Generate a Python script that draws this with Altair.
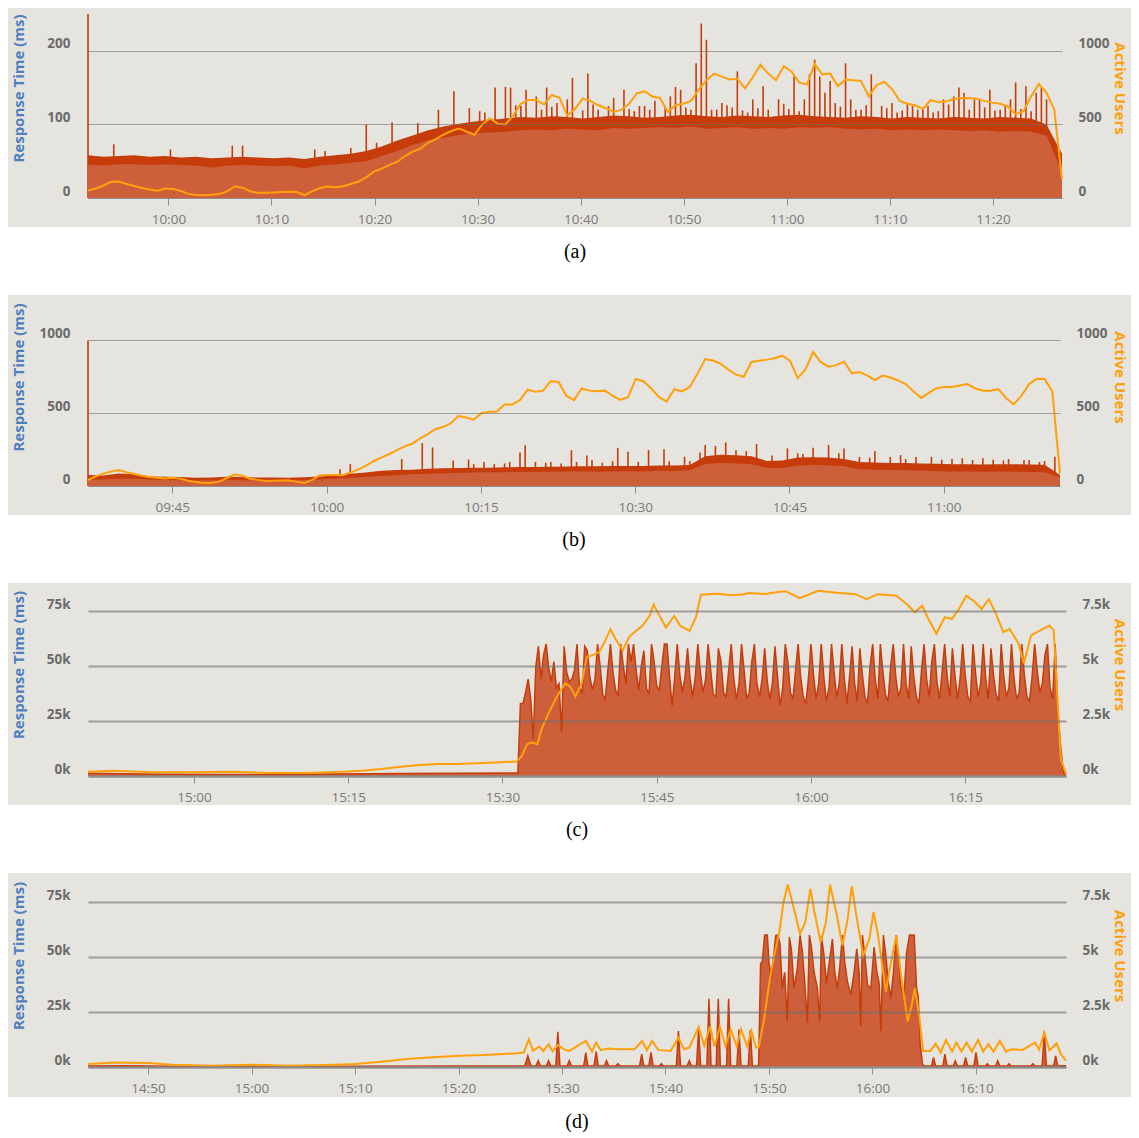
import altair as alt
import pandas as pd

BG = "#e5e4df"
FILL = "#cd603a"
DARK = "#c63c0a"
ORANGE = "#ffa00a"
GRID = "#8f8f8f"
BLUE = "#4f7fbf"
FONT = "Open Sans"

TIME_EXPR = ("(floor(datum.value/60) < 10 ? '0' : '') + floor(datum.value/60) + ':' + "
             "(datum.value % 60 < 10 ? '0' : '') + (datum.value % 60)")

# ---------------- Panel (a) ----------------  (time in minutes of day)
A_DOMAIN = [592.2, 686.7]
A_TICKS = [600, 610, 620, 630, 640, 650, 660, 670, 680]
A_BAND_START, A_BAND_STEP = 592.2, 1.5
a_band_top = [
    58, 56, 57, 58, 56, 57, 55, 56, 54, 55, 56, 55, 54, 55, 53, 56, 58,
    60, 64, 70, 78, 85, 92, 97, 101, 104, 106,
    108, 110, 109, 111, 110, 108, 110, 112, 111, 109, 110, 112, 113, 111, 110, 112, 111,
    110, 112, 113, 111, 110, 109, 111, 110, 108, 110, 109, 108, 110, 109, 108, 110, 109, 108,
    100, 60,
]
a_band_low = [
    45, 44, 46, 46, 45, 46, 45, 44, 41, 44,
    45, 44, 43, 44, 40, 44, 46, 48, 50, 57,
    64, 72, 78, 82, 86, 88, 89, 90, 92, 93,
    92, 94, 93, 92, 95, 94, 95, 96, 95, 97,
    94, 95, 96, 94, 95, 94, 96, 95, 96, 94,
    93, 94, 92, 93, 92, 93, 92, 91, 92, 90,
    91, 90, 85, 35,
]
a_spikes = [
    (592.2, 250), (594.7, 73), (600.2, 66), (606.2, 71), (607.2, 71), (614.2, 66), (615.2, 64),
    (617.7, 68), (619.2, 100), (620.2, 75), (621.7, 103), (624.2, 102), (626.2, 120),
    (627.7, 145), (629.2, 122), (630.2, 118), (630.7, 116), (631.7, 150), (632.7, 151),
    (633.2, 150), (633.7, 126), (634.2, 125), (634.7, 147), (635.7, 138), (636.2, 120),
    (636.7, 150), (637.2, 124), (637.7, 129), (638.7, 134), (639.2, 163), (640.2, 119),
    (640.7, 169), (641.2, 127), (641.7, 120), (642.7, 125), (643.2, 136), (644.2, 147),
    (644.7, 121), (645.2, 118), (645.7, 125), (646.2, 125), (646.7, 120), (647.2, 132),
    (648.2, 125), (648.7, 138), (649.2, 151), (649.7, 147), (650.2, 123), (650.7, 120),
    (651.2, 183), (651.7, 237), (652.2, 215), (652.7, 120), (653.2, 120), (653.7, 129),
    (654.2, 126), (654.7, 123), (655.2, 172), (655.7, 119), (656.2, 116), (656.7, 134),
    (657.2, 122), (657.7, 152), (658.2, 120), (659.2, 134), (659.7, 128), (660.2, 121),
    (660.7, 165), (661.2, 118), (661.7, 134), (662.2, 168), (662.7, 188), (663.2, 165),
    (663.7, 143), (664.2, 159), (664.7, 129), (665.2, 124), (665.7, 183), (666.2, 134),
    (666.7, 120), (667.2, 120), (667.7, 126), (668.2, 168), (669.2, 125), (669.7, 122),
    (670.2, 129), (670.7, 116), (671.2, 119), (671.7, 129), (672.2, 125), (672.7, 120),
    (673.2, 121), (673.7, 125), (674.2, 116), (674.7, 118), (675.2, 134), (675.7, 127),
    (676.2, 138), (676.7, 150), (677.2, 143), (677.7, 120), (678.2, 134), (678.7, 134),
    (679.2, 123), (679.7, 147), (680.2, 119), (680.7, 120), (681.2, 126), (681.7, 134),
    (682.2, 157), (682.7, 121), (683.2, 152), (683.7, 118), (684.2, 143), (684.7, 150),
    (685.2, 134),
]
A_USERS_START, A_USERS_STEP = 592.2, 0.75
a_users = [
    50, 65, 85, 110, 112, 95, 82, 68, 58, 50,
    64, 61, 48, 28, 20, 18, 22, 27, 45, 80,
    70, 45, 34, 36, 38, 40, 43, 40, 20, 45,
    68, 78, 73, 80, 95, 112, 140, 180, 200, 225,
    245, 285, 315, 335, 376, 400, 430, 455, 472, 450,
    430, 500, 540, 505, 500, 560, 640, 665, 665, 635,
    700, 680, 560, 605, 675, 660, 630, 610, 585, 600,
    640, 710, 725, 690, 680, 585, 630, 640, 660, 735,
    800, 845, 825, 805, 810, 745, 820, 905, 845, 800,
    895, 860, 785, 770, 910, 840, 845, 760, 805, 800,
    795, 690, 765, 790, 740, 660, 640, 630, 605, 665,
    650, 655, 672, 680, 678, 675, 658, 648, 640, 622,
    570, 590, 690, 775, 715, 600, 128,
]

# ---------------- Panel (b) ----------------
B_DOMAIN = [576.8, 671.3]
B_TICKS = [585, 600, 615, 630, 645, 660]
B_BAND_START, B_BAND_STEP = 576.8, 1.5
b_band_top = [
    75, 72, 85, 80, 66, 64, 62, 57, 58, 63, 62, 58, 58, 57, 60, 66,
    74, 84, 92, 105, 110, 112, 118, 122, 124, 126, 126, 128, 130, 130,
    132, 134, 136, 135, 137, 138, 138, 140, 141, 145,
    205, 215, 212, 205, 172, 175, 195, 198, 195, 185,
    165, 162, 158, 158, 155, 152, 150, 150, 148, 150, 150, 148, 146, 75,
]
b_band_low = [
    45, 45, 50, 50, 45, 42, 40, 38, 40, 42,
    40, 38, 38, 40, 42, 45, 50, 55, 62, 68,
    74, 80, 84, 88, 90, 92, 94, 95, 96, 98,
    98, 100, 100, 98, 100, 102, 100, 104, 102, 110,
    150, 160, 155, 150, 125, 122, 140, 145, 142, 135,
    115, 112, 110, 108, 106, 102, 100, 100, 98, 100,
    98, 97, 95, 60,
]
b_spikes = [
    (576.8, 1000), (601.3, 115), (602.3, 150), (607.3, 186), (609.3, 295), (610.3, 265),
    (612.3, 175), (613.8, 182), (614.3, 150), (615.3, 165), (616.3, 150), (617.3, 155),
    (617.8, 165), (618.8, 230), (619.3, 280), (620.3, 165), (621.3, 160), (621.8, 165),
    (622.8, 155), (623.8, 245), (624.3, 165), (625.3, 210), (625.8, 178), (626.8, 160),
    (627.8, 170), (628.3, 262), (629.3, 235), (630.3, 165), (631.3, 247), (632.8, 253),
    (633.3, 170), (634.8, 201), (635.3, 172), (636.3, 230), (636.8, 281), (637.8, 275),
    (638.8, 299), (639.8, 245), (640.8, 240), (641.8, 288), (643.3, 210), (644.8, 258),
    (645.8, 225), (646.3, 220), (647.3, 262), (648.8, 281), (649.8, 225), (650.3, 258),
    (651.8, 200), (652.8, 195), (653.3, 240), (654.8, 200), (655.8, 212), (656.3, 185),
    (657.3, 200), (658.8, 200), (659.8, 180), (660.8, 185), (661.8, 190), (662.8, 178),
    (663.8, 190), (664.8, 180), (665.8, 175), (666.3, 185), (667.8, 178), (668.3, 178),
    (669.3, 165), (669.8, 172), (670.8, 201),
]
B_USERS_START, B_USERS_STEP = 576.8, 0.75
b_users = [
    41, 65, 85, 100, 110, 95, 82, 70, 62, 57,
    52, 57, 50, 36, 28, 20, 22, 30, 55, 80,
    70, 50, 42, 35, 36, 38, 39, 30, 20, 40,
    72, 75, 75, 74, 92, 112, 138, 170, 195, 218,
    245, 270, 290, 325, 355, 390, 405, 430, 480, 470,
    455, 500, 510, 512, 560, 560, 590, 662, 648, 655,
    720, 715, 620, 590, 670, 655, 650, 655, 620, 592,
    610, 735, 720, 670, 612, 580, 665, 650, 680, 770,
    872, 862, 840, 800, 765, 750, 852, 860, 868, 878,
    895, 860, 740, 800, 920, 850, 820, 830, 855, 775,
    782, 760, 728, 758, 745, 725, 700, 650, 605, 640,
    672, 680, 680, 690, 700, 670, 655, 655, 665, 605,
    560, 620, 700, 737, 735, 650, 87,
]

# ---------------- Panel (c) ----------------
C_DOMAIN = [889.7, 984.8]
C_TICKS = [900, 915, 930, 945, 960, 975]
c_rt_pre = [(889.7, 1200), (893.0, 1000), (897.0, 800), (902.0, 700), (908.0, 700),
            (914.0, 900), (920.0, 1100), (926.0, 1300), (931.25, 1400)]
C_ACTIVE_START, C_ACTIVE_STEP = 931.5, 0.25
c_rt_active = [
    1500, 33000, 33000, 38000, 44000, 35000, 17000, 50000, 59000, 44000,
    55000, 60000, 49000, 43000, 52000, 40000, 42000, 20000, 59000, 47000,
    43000, 44000, 48000, 60000, 40000, 38000, 59000, 57000, 45000, 39000,
    44000, 60000, 50000, 37000, 35000, 48000, 60000, 47000, 39000, 37000,
    60000, 50000, 42000, 60000, 52000, 60000, 48000, 39000, 50000, 57000,
    40000, 37000, 60000, 52000, 41000, 39000, 50000, 60000, 60000, 45000,
    32000, 45000, 60000, 46000, 38000, 45000, 58000, 44000, 36000, 45000,
    60000, 47000, 38000, 44000, 60000, 48000, 37000, 36000, 58000, 52000,
    38000, 36000, 48000, 60000, 44000, 35000, 42000, 60000, 48000, 35000,
    38000, 52000, 60000, 42000, 36000, 44000, 58000, 43000, 35000, 42000,
    59000, 45000, 32000, 40000, 60000, 52000, 38000, 35000, 48000, 60000,
    45000, 36000, 33000, 44000, 60000, 46000, 35000, 42000, 60000, 45000,
    34000, 40000, 60000, 47000, 36000, 42000, 60000, 44000, 33000, 45000,
    59000, 42000, 34000, 58000, 46000, 36000, 33000, 50000, 60000, 44000,
    35000, 60000, 47000, 37000, 34000, 50000, 60000, 45000, 36000, 40000,
    60000, 42000, 35000, 59000, 45000, 36000, 33000, 48000, 60000, 44000,
    36000, 52000, 60000, 43000, 35000, 47000, 60000, 45000, 36000, 58000,
    46000, 35000, 44000, 60000, 46000, 36000, 34000, 60000, 47000, 36000,
    42000, 60000, 44000, 35000, 58000, 46000, 37000, 34000, 60000, 45000,
    36000, 40000, 60000, 44000, 35000, 38000, 60000, 46000, 36000, 34000,
    45000, 60000, 48000, 38000, 42000, 55000, 60000, 40000, 35000, 60000,
    30000, 15000, 3000, 0,
]
c_users = [
    (889.7, 195), (892.2, 240), (895.9, 165), (899.6, 165), (904.1, 195), (907.1, 135),
    (910.8, 135), (914.5, 195), (916.3, 240), (918.2, 315), (920.1, 420), (921.9, 495),
    (923.8, 540), (925.6, 540), (927.5, 585), (929.3, 615), (931.4, 660), (931.9, 926),
    (932.4, 1448), (932.9, 1523), (933.4, 1448), (933.8, 2120), (934.5, 2867), (935.3, 3613),
    (936.1, 4210), (936.6, 4061), (937.1, 3613), (937.7, 4210), (938.2, 5405), (938.7, 5480),
    (939.4, 5629), (940.0, 6151), (940.5, 6674), (941.0, 6226), (941.7, 5703), (942.3, 6301),
    (942.8, 6525), (943.6, 6823), (944.3, 7271), (944.7, 7794), (945.2, 7346), (945.9, 6748),
    (946.7, 7271), (947.3, 6823), (948.2, 6599), (948.8, 7196), (949.3, 8241), (950.8, 8286),
    (952.4, 8212), (953.5, 8265), (954.0, 8316), (955.6, 8271), (957.1, 8385), (957.6, 8390),
    (958.9, 8085), (960.7, 8415), (962.5, 8330), (964.3, 8265), (965.4, 8040), (966.5, 8265),
    (968.3, 8190), (969.3, 7815), (970.1, 7440), (970.8, 7740), (971.5, 7065), (972.2, 6465),
    (973.0, 7215), (973.7, 7140), (974.4, 7590), (975.1, 8190), (975.8, 7965), (976.6, 7590),
    (977.3, 8040), (978.0, 7365), (978.7, 6540), (979.3, 6690), (980.2, 6015), (980.7, 5115),
    (981.4, 6390), (982.3, 6615), (983.2, 6840), (983.6, 6615), (984.3, 765), (984.8, 90),
]

# ---------------- Panel (d) ----------------
D_DOMAIN = [884.2, 978.7]
D_TICKS = [890, 900, 910, 920, 930, 940, 950, 960, 970]
d_rt = [
    (884.2, 500), (888.0, 600), (892.0, 300), (900.0, 300), (910.0, 300), (920.0, 400), (926.4, 400),
    (926.7, 5100), (927.0, 500), (927.5, 500), (927.7, 2800), (927.9, 500), (928.5, 500),
    (928.7, 2800), (928.9, 500), (929.4, 500), (929.6, 16000), (929.8, 600), (930.5, 500),
    (930.7, 2800), (930.9, 500), (932.1, 500), (932.3, 6500), (932.5, 500), (933.1, 500),
    (933.3, 7000), (933.5, 500), (934.1, 500), (934.3, 2800), (934.5, 500), (935.2, 500),
    (935.4, 1500), (935.6, 500), (937.5, 500), (937.7, 5800), (937.9, 500), (938.4, 500),
    (938.6, 6600), (938.8, 500), (939.4, 500), (939.6, 1500), (939.8, 500), (941.05, 500),
    (941.25, 16300), (941.45, 500), (942.1, 500), (942.3, 2800), (942.5, 500), (943.0, 500),
    (943.2, 17000), (943.4, 500), (944.0, 500), (944.2, 31000), (944.4, 500), (944.9, 500),
    (945.1, 31000), (945.3, 500), (945.9, 500), (946.1, 31000), (946.3, 500), (946.9, 500),
    (947.1, 17000), (947.3, 500), (948.0, 500), (948.2, 16800), (948.4, 500), (949.0, 500),
    (949.19, 47000), (949.35, 47700), (949.58, 60000), (949.84, 60000), (950.0, 47700),
    (950.23, 40000), (950.42, 49000), (950.65, 59700), (950.87, 60000), (951.06, 56000),
    (951.29, 35800), (951.52, 43000), (951.77, 20800), (951.97, 59000), (952.16, 53700),
    (952.42, 35800), (952.74, 44800), (953.0, 60000), (953.23, 52200), (953.45, 38800),
    (953.71, 20000), (953.9, 60000), (954.1, 54500), (954.35, 43300), (954.68, 35800),
    (954.9, 20800), (955.06, 59700), (955.32, 50700), (955.55, 38000), (955.87, 49200),
    (956.13, 58200), (956.35, 43300), (956.61, 35800), (956.84, 45500), (957.1, 60000),
    (957.32, 47700), (957.58, 38800), (957.9, 32800), (958.23, 43300), (958.48, 53700),
    (958.71, 43300), (958.87, 18600), (959.03, 60000), (959.26, 50700), (959.52, 37300),
    (959.84, 35800), (960.16, 54500), (960.42, 43300), (960.65, 38000), (960.81, 16300),
    (961.06, 60000), (961.29, 50700), (961.52, 38800), (961.77, 31300), (962.03, 43300),
    (962.29, 60000), (962.48, 50700), (962.74, 36500), (963.06, 32800), (963.29, 51500),
    (963.58, 60000), (964.03, 60000), (964.26, 35800), (964.42, 32000), (964.61, 10300),
    (964.84, 1300), (965.0, 400),
    (965.7, 400), (965.9, 4300), (966.1, 400), (966.8, 400), (967.0, 5800), (967.2, 400),
    (967.8, 400), (968.0, 2800), (968.2, 400), (968.8, 400), (969.0, 4300), (969.2, 400),
    (969.8, 400), (970.0, 6600), (970.2, 400), (970.9, 400), (971.1, 1500), (971.3, 400),
    (971.9, 400), (972.1, 2800), (972.3, 400), (973.0, 400), (973.2, 1500), (973.4, 400),
    (975.3, 400), (975.5, 1500), (975.7, 400), (976.4, 400), (976.6, 16300), (976.8, 400),
    (977.5, 400), (977.7, 5100), (977.9, 400), (978.7, 600),
]
d_users = [
    (884.2, 135), (886.8, 210), (890.0, 180), (892.4, 105), (896.1, 60), (900.0, 105),
    (903.5, 60), (907.2, 90), (910.0, 135), (912.8, 255), (915.0, 360), (917.2, 435),
    (920.1, 510), (922.4, 540), (923.9, 585), (925.7, 630), (926.3, 660), (926.8, 1260),
    (927.2, 735), (927.8, 930), (928.2, 720), (928.7, 1035), (929.1, 720), (929.6, 1000),
    (930.2, 800), (930.7, 733), (932.3, 1183), (932.9, 700), (933.3, 1108), (933.75, 763),
    (934.5, 838), (935.4, 808), (937.0, 808), (937.75, 1183), (938.2, 760), (938.7, 1183),
    (939.3, 778), (940.5, 733), (941.25, 1332), (941.8, 808), (942.3, 883), (943.2, 1826),
    (943.75, 958), (944.3, 1856), (944.75, 930), (945.25, 1826), (945.8, 930), (946.3, 1706),
    (946.9, 930), (947.3, 1706), (947.9, 930), (948.3, 1632), (948.75, 883), (949.0, 883),
    (949.5, 2080), (950.0, 3730), (950.5, 5075), (951.0, 6120), (951.4, 7470), (951.8, 8290),
    (952.1, 7770), (952.5, 7020), (953.0, 6050), (953.5, 6570), (954.0, 8100), (954.4, 7020),
    (955.0, 5670), (955.5, 6570), (955.9, 8290), (956.5, 7020), (957.1, 5520), (957.6, 6720),
    (958.0, 8220), (958.5, 6720), (959.1, 5075), (959.7, 5820), (960.1, 7050), (960.5, 6120),
    (961.3, 3430), (961.8, 4775), (962.3, 5970), (962.8, 4030), (963.4, 2080), (963.8, 2830),
    (964.1, 3580), (964.5, 2380), (964.9, 730), (965.6, 730), (966.1, 1060), (966.6, 659),
    (967.1, 1228), (967.7, 700), (968.1, 1108), (968.6, 700), (969.1, 1108), (969.6, 700),
    (970.2, 1228), (970.7, 700), (971.2, 1033), (971.7, 700), (972.3, 1183), (972.9, 700),
    (973.4, 808), (974.5, 778), (975.7, 1108), (976.1, 780), (976.6, 1557), (977.1, 760),
    (977.8, 1078), (978.2, 584), (978.7, 284),
]


def grid_df(start, step, values):
    return pd.DataFrame({"t": [round(start + step * i, 4) for i in range(len(values))], "v": values})


def pairs_df(pairs):
    return pd.DataFrame(pairs, columns=["t", "v"])


def panel(caption, domain, ticks, w, h, top, bottom, rt_parts, users_df,
          rt_dom, rt_ticks, rt_expr, u_dom, u_ticks, u_expr, gw):
    x = alt.X("t:Q", title=None,
              scale=alt.Scale(domain=domain, nice=False, zero=False),
              axis=alt.Axis(values=ticks, labelExpr=TIME_EXPR, grid=False, tickSize=7,
                            tickColor=GRID, tickWidth=1, domainColor=GRID, domainWidth=gw,
                            labelPadding=7, labelColor="#7a7a7a", labelFont=FONT,
                            labelFontSize=13.5, labelFlush=False, labelOverlap=False, zindex=1))
    y_left = alt.Y("v:Q", scale=alt.Scale(domain=rt_dom, nice=False, zero=True),
                   axis=alt.Axis(values=rt_ticks, labelExpr=rt_expr, title="Response Time (ms)",
                                 grid=True, gridColor="#6f6f6f", gridOpacity=0.6, gridWidth=gw,
                                 ticks=False, domain=False, labelPadding=18, labelBaseline="bottom",
                                 labelFont=FONT, labelFontSize=13.5, labelFontWeight="bold",
                                 labelColor="#6b6b6b", labelFlush=False, labelOverlap=False,
                                 titleFont=FONT, titleFontSize=15, titleFontWeight="bold",
                                 titleColor=BLUE, titleX=-70, titleY=h / 2 - 18, titleAngle=270,
                                 titleAlign="center", titleBaseline="middle", zindex=1))
    y_right = alt.Y("v:Q", scale=alt.Scale(domain=u_dom, nice=False, zero=True),
                    axis=alt.Axis(orient="right", values=u_ticks, labelExpr=u_expr,
                                  title="Active Users", grid=False, ticks=False, domain=False,
                                  labelPadding=16, labelBaseline="bottom", labelFont=FONT,
                                  labelFontSize=13.5, labelFontWeight="bold", labelColor="#6b6b6b",
                                  labelFlush=False, labelOverlap=False,
                                  titleFont=FONT, titleFontSize=15, titleFontWeight="bold",
                                  titleColor=ORANGE, titleX=1031 - w, titleY=h / 2 - 18, titleAngle=90,
                                  titleAlign="center", titleBaseline="middle", zindex=1))

    frame = pd.DataFrame({"b": [0]})
    bg = alt.Chart(frame).mark_rect(color=BG).encode(
        x=alt.value(-80), x2=alt.value(1043), y=alt.value(-top), y2=alt.value(h + bottom))

    rt_layers = []
    for df, kind, color in rt_parts:
        if kind == "area":
            rt_layers.append(alt.Chart(df).mark_area(color=color, opacity=1).encode(x=x, y=y_left))
        elif kind == "rule":
            rt_layers.append(alt.Chart(df).mark_rule(color=color, strokeWidth=1.6).encode(
                x=x, y=y_left, y2=alt.datum(0)))
        else:
            rt_layers.append(alt.Chart(df).mark_line(color=color, strokeWidth=1.5).encode(x=x, y=y_left))
    rt = alt.layer(*rt_layers)

    users = alt.Chart(users_df).mark_line(color=ORANGE, strokeWidth=2).encode(x=x, y=y_right)

    return alt.layer(bg, rt, users).resolve_scale(y="independent").properties(
        width=w, height=h,
        title=alt.TitleParams(caption, orient="bottom", anchor="middle", font="Liberation Serif",
                              fontSize=20, fontWeight="normal", color="black", offset=15))


K_EXPR = "datum.value / 1000 + 'k'"

pa = panel("(a)", A_DOMAIN, A_TICKS, 974, 184, 6, 29,
           [(pairs_df(a_spikes), "rule", DARK),
            (grid_df(A_BAND_START, A_BAND_STEP, a_band_top), "area", DARK),
            (grid_df(A_BAND_START, A_BAND_STEP, a_band_low), "area", FILL)],
           grid_df(A_USERS_START, A_USERS_STEP, a_users),
           [0, 250], [0, 100, 200], "datum.value", [0, 1250], [0, 500, 1000], "datum.value", 1.2)

pb = panel("(b)", B_DOMAIN, B_TICKS, 972, 182, 9, 29,
           [(pairs_df(b_spikes), "rule", DARK),
            (grid_df(B_BAND_START, B_BAND_STEP, b_band_top), "area", DARK),
            (grid_df(B_BAND_START, B_BAND_STEP, b_band_low), "area", FILL)],
           grid_df(B_USERS_START, B_USERS_STEP, b_users),
           [0, 1250], [0, 500, 1000], "datum.value", [0, 1250], [0, 500, 1000], "datum.value", 1.2)

c_rt_df = pd.concat([pairs_df(c_rt_pre), grid_df(C_ACTIVE_START, C_ACTIVE_STEP, c_rt_active)],
                    ignore_index=True)
pc = panel("(c)", C_DOMAIN, C_TICKS, 978, 187, 6, 29,
           [(c_rt_df, "area", FILL), (c_rt_df, "line", DARK)],
           pairs_df(c_users),
           [0, 85000], [0, 25000, 50000, 75000], K_EXPR, [0, 8500], [0, 2500, 5000, 7500], K_EXPR, 2)

d_rt_df = pairs_df(d_rt)
pd_ = panel("(d)", D_DOMAIN, D_TICKS, 978, 187, 7, 30,
            [(d_rt_df, "area", FILL), (d_rt_df, "line", DARK)],
            pairs_df(d_users),
            [0, 85000], [0, 25000, 50000, 75000], K_EXPR, [0, 8500], [0, 2500, 5000, 7500], K_EXPR, 2)

chart = alt.vconcat(pa, pb, pc, pd_, spacing=33, padding=0, background="white").configure_view(stroke=None)

chart.save("out.html", embed_options={"renderer": "svg", "actions": False})
